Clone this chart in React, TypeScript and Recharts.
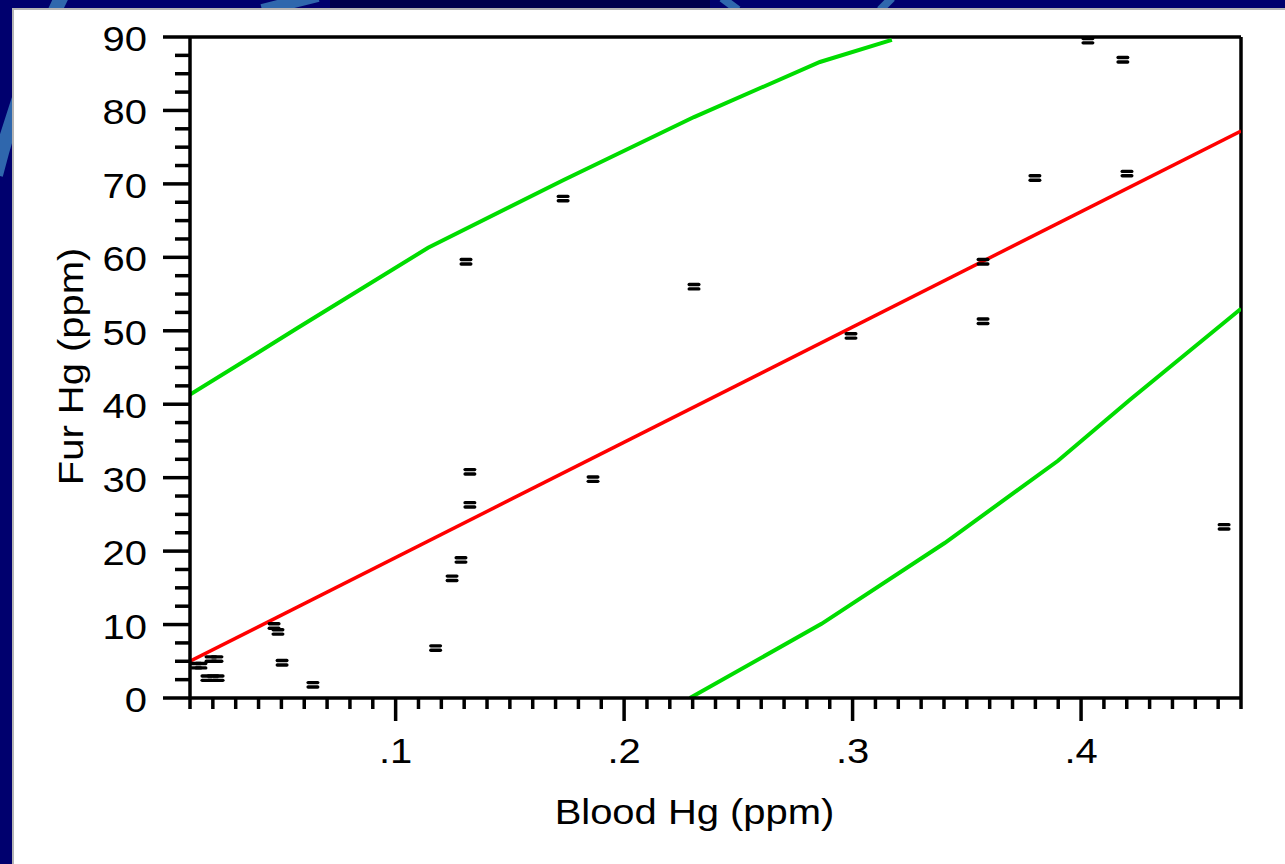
import { ComposedChart, XAxis, YAxis, Scatter, Line, ReferenceLine, Label } from 'recharts';

// measured samples: blood vs fur mercury (ppm)
const bloodHg = [
  0.0126, 0.0148, 0.0174, 0.0201, 0.0223, 0.0192, 0.0218, 0.0468, 0.0485, 0.0503,
  0.0638, 0.1175, 0.1247, 0.1286, 0.1325, 0.1325, 0.1308, 0.1733, 0.1864, 0.2306,
  0.2993, 0.3571, 0.3571, 0.3798, 0.403, 0.4183, 0.4201, 0.4626,
];
const furHg = [
  4.4, 4.4, 2.7, 2.7, 2.7, 5.3, 5.3, 9.8, 9.0, 4.8,
  1.8, 6.8, 16.3, 18.8, 26.3, 30.8, 59.4, 68.0, 29.8, 56.0,
  49.3, 59.4, 51.3, 70.8, 89.5, 86.9, 71.4, 23.3,
];

// regression fit
const fitX = [0.01, 0.47];
const fitY = [5.0, 77.2];

// prediction band
const upperX = [0.01, 0.0567, 0.1142, 0.1733, 0.2306, 0.2857, 0.3172];
const upperY = [41.3, 50.3, 61.3, 70.5, 79.1, 86.6, 89.6];
const lowerX = [0.2288, 0.2864, 0.3403, 0.3899, 0.4214, 0.47];
const lowerY = [0, 10.1, 21.1, 32.3, 40.6, 53.0];

const xTicks = Array.from({ length: 47 }, (_, i) => Number((0.01 + i * 0.01).toFixed(2)));
const yTicks = Array.from({ length: 37 }, (_, i) => i * 2.5);

const zip = (xs: number[], ys: number[]) => xs.map((x, i) => ({ x, y: ys[i] }));
const points = zip(bloodHg, furHg);
const fitData = zip(fitX, fitY);
const upperData = zip(upperX, upperY);
const lowerData = zip(lowerX, lowerY);

const FONT = "'Liberation Sans', Arial, Helvetica, sans-serif";
const NAVY = '#00006e';

const YTick = (props: any) => {
  const { x, y, payload } = props;
  const v = payload.value;
  const major = v % 10 === 0;
  return (
    <g>
      <line x1={x - (major ? 27 : 15)} x2={x} y1={y} y2={y} stroke="#000" strokeWidth={3.5} />
      {major && (
        <text
          transform={`translate(${x - 43},${y + 14}) scale(1.11,1)`}
          textAnchor="end"
          fontSize={36}
          fontFamily={FONT}
          fill="#000"
        >
          {v}
        </text>
      )}
    </g>
  );
};

const XTick = (props: any) => {
  const { x, y, payload } = props;
  const v = payload.value;
  const major = Math.round(v * 100) % 10 === 0;
  return (
    <g>
      <line x1={x} x2={x} y1={y} y2={y + (major ? 23 : 11)} stroke="#000" strokeWidth={3.5} />
      {major && (
        <text
          transform={`translate(${x},${y + 65}) scale(1.11,1)`}
          textAnchor="middle"
          fontSize={36}
          fontFamily={FONT}
          fill="#000"
        >
          {'.' + Math.round(v * 10)}
        </text>
      )}
    </g>
  );
};

// "=" shaped marker
const Marker = (props: any) => {
  const { cx, cy } = props;
  return (
    <g>
      <rect x={cx - 6.5} y={cy - 3.9} width={13} height={3.4} rx={1.7} fill="#000" />
      <rect x={cx - 6.5} y={cy + 0.5} width={13} height={3.4} rx={1.7} fill="#000" />
    </g>
  );
};

export default function App() {
  return (
    <div
      style={{
        position: 'fixed',
        left: 0,
        top: 0,
        width: 1285,
        height: 864,
        background: NAVY,
        overflow: 'hidden',
      }}
    >
      <svg width={1285} height={864} style={{ position: 'absolute', left: 0, top: 0 }}>
        <rect x={330} y={0} width={380} height={8} fill="#00004c" />
        <path d="M 62 -4 Q 20 80 -4 175" stroke="#2f67ad" strokeWidth={14} fill="none" />
        <path d="M 262 10 L 318 -4" stroke="#2f67ad" strokeWidth={12} fill="none" />
        <path d="M 722 -2 L 738 10" stroke="#2f67ad" strokeWidth={8} fill="none" />
        <path d="M 880 10 L 892 -2" stroke="#2f67ad" strokeWidth={8} fill="none" />
      </svg>
      <div
        style={{
          position: 'absolute',
          left: 12,
          top: 8,
          right: 0,
          bottom: 0,
          background: '#fff',
          borderLeft: '2px solid #b4b4b4',
          borderTop: '2px solid #b4b4b4',
        }}
      />
      <div style={{ position: 'absolute', left: 0, top: 0 }}>
        <ComposedChart width={1285} height={864} margin={{ top: 37, right: 44, left: 0, bottom: 0 }}>
          <XAxis
            dataKey="x"
            type="number"
            domain={[0.01, 0.47]}
            ticks={xTicks}
            interval={0}
            allowDataOverflow
            height={166}
            tickSize={0}
            tickMargin={0}
            tickLine={false}
            axisLine={{ stroke: '#000', strokeWidth: 3.5 }}
            tick={<XTick />}
          >
            <Label
              content={(p: any) => {
                const vb = p.viewBox || { x: 190, y: 698, width: 1051 };
                return (
                  <text
                    transform={`translate(${vb.x + vb.width / 2 - 21},${vb.y + 126}) scale(1.11,1)`}
                    textAnchor="middle"
                    fontSize={36}
                    fontFamily={FONT}
                    fill="#000"
                  >
                    Blood Hg (ppm)
                  </text>
                );
              }}
            />
          </XAxis>
          <YAxis
            dataKey="y"
            type="number"
            domain={[0, 90]}
            ticks={yTicks}
            interval={0}
            allowDataOverflow
            width={190}
            tickSize={0}
            tickMargin={0}
            tickLine={false}
            axisLine={{ stroke: '#000', strokeWidth: 3.5 }}
            tick={<YTick />}
          >
            <Label
              content={(p: any) => {
                const vb = p.viewBox || { x: 0, y: 37, height: 661 };
                return (
                  <text
                    transform={`translate(${vb.x + 83},${vb.y + vb.height / 2 - 1}) rotate(-90) scale(1.11,1)`}
                    textAnchor="middle"
                    fontSize={36}
                    fontFamily={FONT}
                    fill="#000"
                  >
                    Fur Hg (ppm)
                  </text>
                );
              }}
            />
          </YAxis>
          <ReferenceLine y={90} stroke="#000" strokeWidth={3.5} />
          <ReferenceLine x={0.47} stroke="#000" strokeWidth={3.5} />
          <Line
            data={upperData}
            dataKey="y"
            type="linear"
            stroke="#00dc00"
            strokeWidth={4}
            dot={false}
            activeDot={false}
            isAnimationActive={false}
          />
          <Line
            data={lowerData}
            dataKey="y"
            type="linear"
            stroke="#00dc00"
            strokeWidth={4}
            dot={false}
            activeDot={false}
            isAnimationActive={false}
          />
          <Line
            data={fitData}
            dataKey="y"
            type="linear"
            stroke="#ff0000"
            strokeWidth={3.5}
            dot={false}
            activeDot={false}
            isAnimationActive={false}
          />
          <Scatter data={points} dataKey="y" shape={<Marker />} isAnimationActive={false} />
        </ComposedChart>
      </div>
    </div>
  );
}
